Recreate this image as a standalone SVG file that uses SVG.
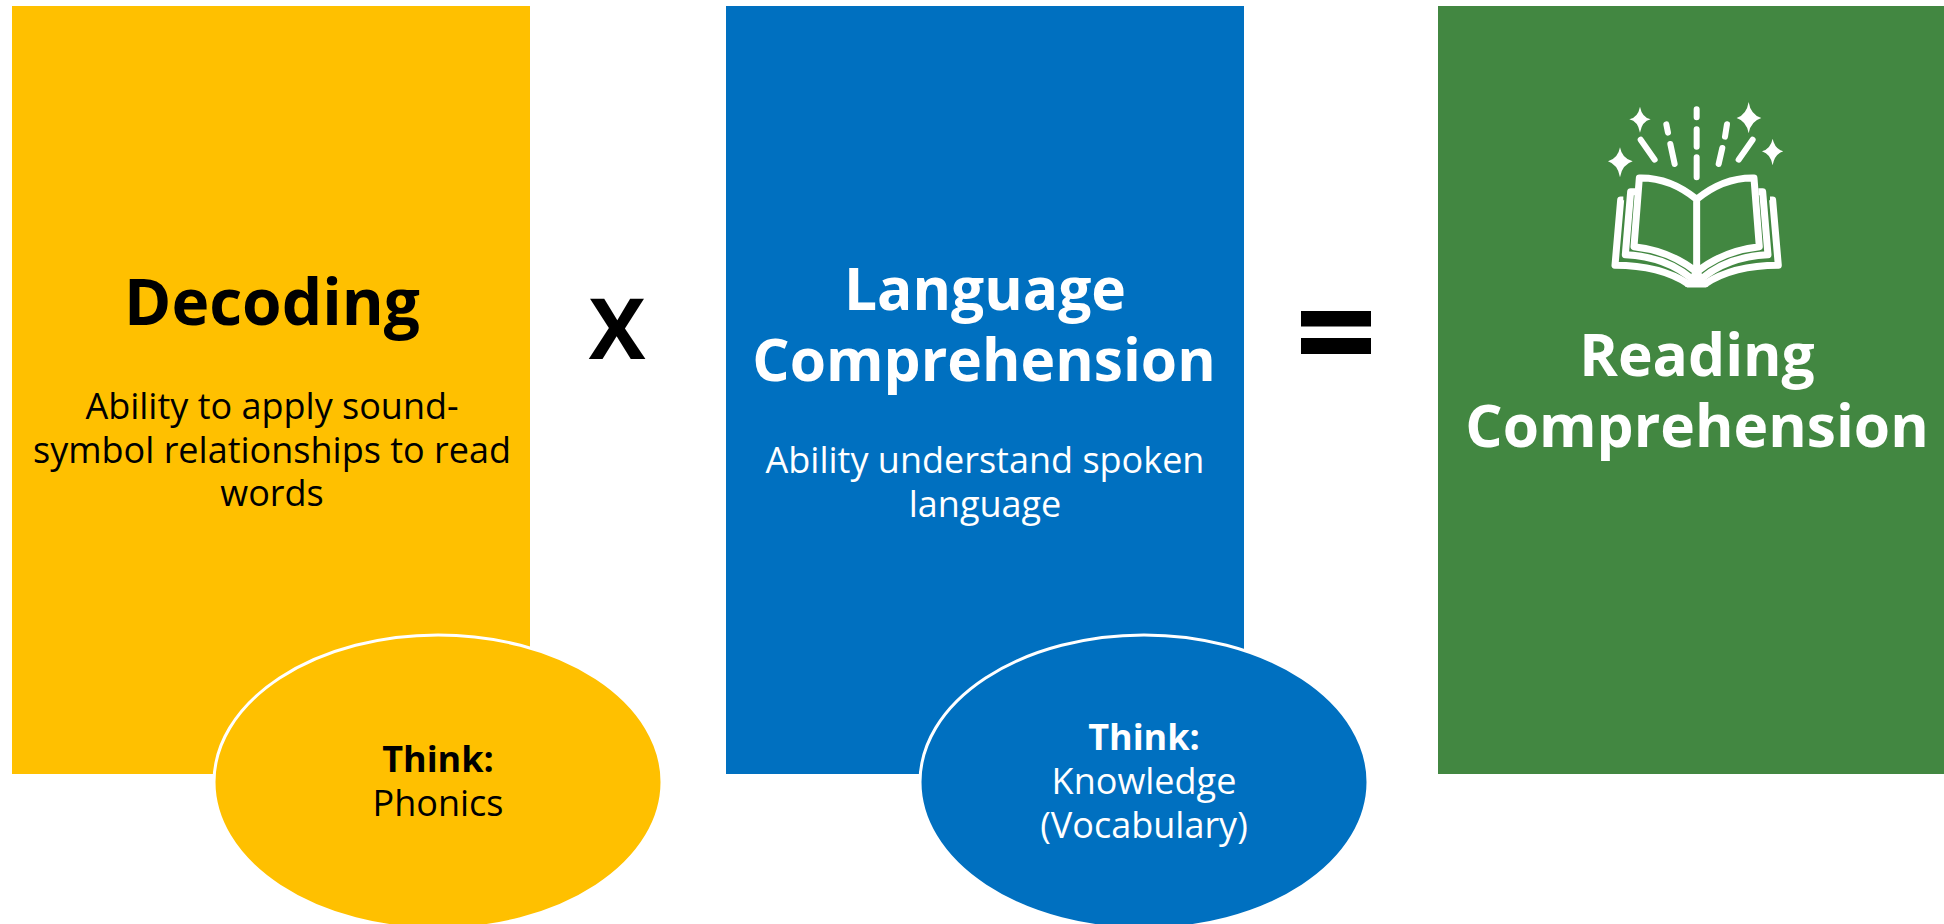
<svg xmlns="http://www.w3.org/2000/svg" width="1944" height="924" viewBox="0 0 1944 924">
<style>
text{font-family:"Open Sans","Noto Sans","Liberation Sans",sans-serif;text-anchor:middle}
.h{font-size:58.67px;font-weight:700}
.d{font-size:64px;font-weight:700}
.b{font-size:36px}
.t{font-size:36px;font-weight:700}
.k{fill:#000}.w{fill:#fff}
.el{stroke:#fff;stroke-width:3}
.y{fill:#FFC000}.bl{fill:#0070C0}.g{fill:#428741}
.ic{fill:none;stroke:#fff;stroke-width:18;stroke-linecap:round;stroke-linejoin:round}
.ic2{fill:none;stroke:#fff;stroke-width:21;stroke-linejoin:round}
</style>
<rect width="1944" height="924" fill="#fff"/>
<g id="decoding">
<rect class="y" x="12" y="6" width="518" height="768"/>
<text class="d k" x="272" y="325">Decoding</text>
<text class="b k" x="272" y="419">Ability to apply sound-</text>
<text class="b k" x="272" y="463">symbol relationships to read</text>
<text class="b k" x="272" y="506">words</text>
</g>
<g id="phonics">
<ellipse class="y el" cx="438" cy="782" rx="224" ry="147"/>
<text class="t k" x="438" y="772">Think:</text>
<text class="b k" x="438" y="816">Phonics</text>
</g>
<g id="times"><text class="k" x="617" y="359" style="font-size:85px;font-weight:700">X</text></g>
<g id="language">
<rect class="bl" x="726" y="6" width="518" height="768"/>
<text class="h w" x="985" y="310">Language</text>
<text class="h w" x="984" y="381">Comprehension</text>
<text class="b w" x="985" y="473">Ability understand spoken</text>
<text class="b w" x="985" y="517">language</text>
</g>
<g id="knowledge">
<ellipse class="bl el" cx="1144" cy="782" rx="224" ry="147"/>
<text class="t w" x="1144" y="750">Think:</text>
<text class="b w" x="1144" y="794">Knowledge</text>
<text class="b w" x="1144" y="838">(Vocabulary)</text>
</g>
<g id="equals"><rect class="k" x="1301" y="311" width="70" height="15.5"/><rect class="k" x="1301" y="338" width="70" height="16"/></g>
<g id="reading">
<rect class="g" x="1438" y="6" width="506" height="768"/>
<text class="h w" x="1697" y="376">Reading</text>
<text class="h w" x="1697" y="447">Comprehension</text>
<g id="book-icon" transform="translate(1560 90) scale(.3333)">
<g class="ic">
<path d="M410 58V82M410 118V170M410 202V262M319 103L324 128M331 162L344 222M501 103L495 140M487 174L476 222M242 149L284 209M578 149L536 209"/>
</g>
<path fill="#fff" d="M240 50Q246 82 272 88Q246 94 240 128Q234 94 208 88Q234 82 240 50ZM566 36Q572 74 604 84Q572 94 566 130Q560 94 530 84Q560 74 566 36ZM180 172Q186 206 218 214Q186 224 180 262Q174 224 144 214Q174 206 180 172ZM638 146Q644 176 670 184Q644 192 638 226Q632 192 606 184Q632 176 638 146Z"/>
<g class="ic2">
<path d="M410 328Q330 262 238 264L222 470Q330 482 410 546Q490 482 598 470L582 264Q490 262 410 328V546"/>
<path d="M225 305H212L196 494Q320 500 400 570M595 305H608L624 494Q500 500 420 570"/>
<path d="M190 330H182L165 526Q300 526 385 582H435Q520 526 655 526L638 330H630"/>
</g>
<path fill="#fff" d="M400 540H420L445 590H375Z"/>
</g>
</g>
</svg>
